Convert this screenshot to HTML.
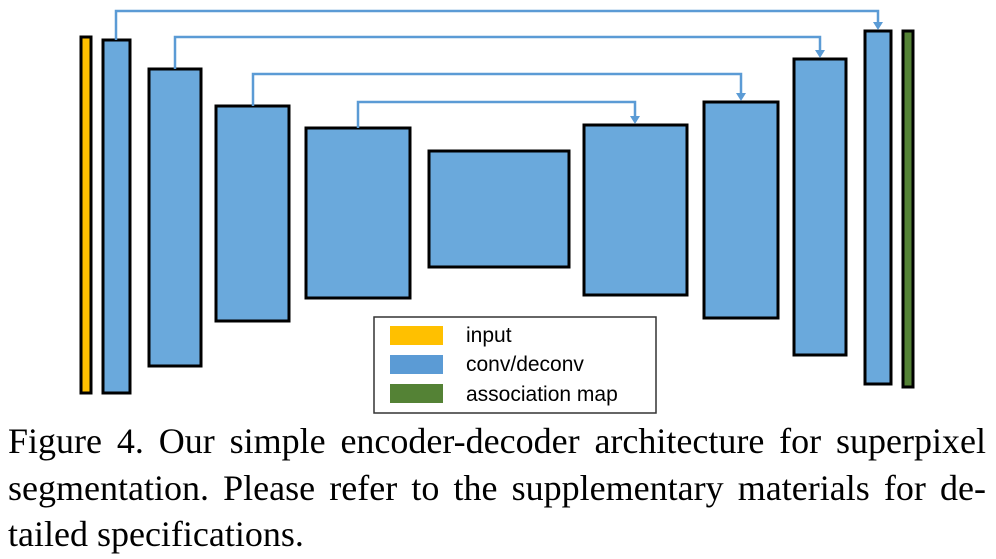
<!DOCTYPE html>
<html><head><style>
body{margin:0;background:#fff;width:996px;height:559px;overflow:hidden;position:relative}
.cap{position:absolute;left:8px;top:418px;width:978px;font-family:"Liberation Serif",serif;font-size:36px;line-height:46.5px;color:#000}
.l{display:block;text-align:justify;text-align-last:justify;white-space:nowrap}
</style></head><body>
<svg width="996" height="420" style="position:absolute;left:0;top:0">
<g stroke="#000" stroke-width="3">
<rect x="81" y="37" width="10" height="356" fill="#ffc000"/>
<rect x="103" y="40" width="27" height="353" fill="#6aa9dc"/>
<rect x="149" y="69" width="52" height="297" fill="#6aa9dc"/>
<rect x="216" y="106" width="73" height="215" fill="#6aa9dc"/>
<rect x="306" y="128" width="104" height="170" fill="#6aa9dc"/>
<rect x="429" y="151" width="140" height="116" fill="#6aa9dc"/>
<rect x="584" y="125" width="103" height="170" fill="#6aa9dc"/>
<rect x="704" y="102" width="74" height="216" fill="#6aa9dc"/>
<rect x="794" y="59" width="52" height="296" fill="#6aa9dc"/>
<rect x="865" y="31" width="26" height="353" fill="#6aa9dc"/>
<rect x="903" y="31" width="10" height="356" fill="#548235"/>
</g>
<g stroke="#5b9bd5" stroke-width="2.5" fill="none">
<polyline points="116,40 116,11 878,11 878,24"/>
<polyline points="175,69 175,37 820,37 820,52"/>
<polyline points="253,106 253,74 741,74 741,95"/>
<polyline points="358,128 358,102 635,102 635,118"/>
</g>
<g fill="#5b9bd5">
<polygon points="873,22 883,22 878,30"/>
<polygon points="815,50 825,50 820,58"/>
<polygon points="736,93 746,93 741,101"/>
<polygon points="630,116 640,116 635,124"/>
</g>
<rect x="374" y="317" width="282" height="96" fill="#fff" stroke="#333" stroke-width="1.5"/>
<rect x="390" y="326" width="53" height="19" fill="#ffc000"/>
<rect x="390" y="355" width="53" height="19" fill="#5b9bd5"/>
<rect x="390" y="384" width="53" height="19" fill="#548235"/>
<g font-family="Liberation Sans, DejaVu Sans, sans-serif" font-size="21" fill="#000">
<text x="466" y="342">input</text>
<text x="466" y="371">conv/deconv</text>
<text x="466" y="401">association map</text>
</g>
</svg>
<div class="cap"><span class="l">Figure 4. Our simple encoder-decoder architecture for superpixel</span><span class="l">segmentation. Please refer to the supplementary materials for de-</span><span style="display:block">tailed specifications.</span></div>
</body></html>
